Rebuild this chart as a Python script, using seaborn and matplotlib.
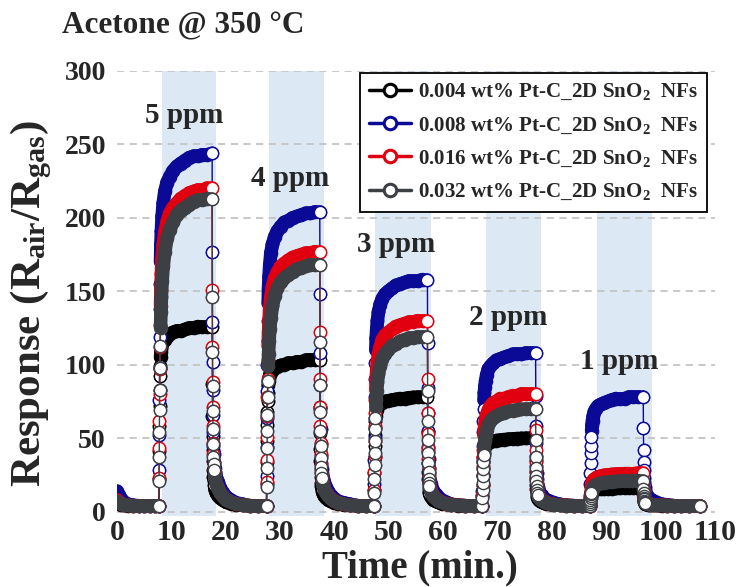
import numpy as np
import pandas as pd
import matplotlib
matplotlib.use("Agg")
import matplotlib.pyplot as plt
import seaborn as sns
from matplotlib.collections import LineCollection
from matplotlib.lines import Line2D

# ---------------- timing of the gas pulses (min) ----------------
gas_on = [7.7, 27.5, 47.3, 67.2, 87.0]
rise_t = [0, 0.03, 0.06, 0.09, 0.12, 0.16, 0.2, 0.25, 0.31, 0.38, 0.47, 0.6, 0.8,
          1.1, 1.5, 2.0, 2.6, 3.3, 4.0, 4.8, 5.6, 6.4, 7.2, 8.0, 8.9, 9.8]
fall_t = [0.03, 0.06, 0.09, 0.12, 0.16, 0.2, 0.25, 0.31, 0.38, 0.47, 0.6, 0.8,
          1.1, 1.5, 2.0, 2.6, 3.4, 4.4, 5.6, 7.0, 8.5]
start_t = [0, 0.4, 0.8, 1.3, 2.0, 3.0, 4.0, 5.0, 6.0, 7.0]
end_t = 107.2
end_v = 4
exposure_windows = [(8.2, 18.3), (28.0, 38.1), (47.4, 57.7), (67.9, 78.0), (88.3, 98.5)]
ppm_labels = ["5 ppm", "4 ppm", "3 ppm", "2 ppm", "1 ppm"]
ppm_label_x = [12.3, 31.9, 51.4, 71.9, 92.4]
ppm_label_y = [270, 227, 182, 132, 102]
x_ticks = [0, 10, 20, 30, 40, 50, 60, 70, 80, 90, 100, 110]
y_ticks = [0, 50, 100, 150, 200, 250, 300]

# ---------------- 0.004 wt% ----------------
s004_start = [6, 5.2, 4.7, 4.3, 4.1, 4, 4, 4, 4, 4]
s004_rise = [
    [4, 22, 41, 58, 72, 83, 92, 99, 105, 109, 111, 114, 116, 117, 119, 121, 122, 123, 123, 124, 125, 125, 126, 126, 126, 126],
    [4, 19, 34, 48, 59, 68, 75, 81, 86, 89, 91, 93, 95, 96, 98, 98.5, 99.5, 100, 101, 101, 102, 102, 103, 103, 103, 103],
    [4, 15, 26, 37, 45, 52, 57, 62, 65, 68, 69, 71, 72, 73, 74, 75, 75.4, 76, 76.4, 77, 77, 77.5, 77.7, 77.9, 78, 78],
    [4, 10.9, 17.8, 24.2, 29.8, 33.9, 37.1, 39.9, 42.2, 43.6, 44.5, 45.4, 46.1, 46.8, 47.5, 47.9, 48.4, 48.7, 49, 49.3, 49.5, 49.7, 49.8, 49.9, 50, 50],
    [4, 5.8, 7.6, 9.3, 10.7, 11.8, 12.6, 13.4, 14, 14.3, 14.6, 14.8, 15, 15.2, 15.3, 15.5, 15.6, 15.7, 15.7, 15.8, 15.9, 15.9, 16, 16, 16, 16],
]
s004_fall = [
    [87, 65, 51.6, 41.8, 34.5, 28.4, 23.5, 20.5, 18, 16.2, 14.4, 12.5, 10.7, 9.1, 7.7, 6.4, 5.5, 4.7, 4.2, 4, 4],
    [71.3, 53.5, 42.6, 34.7, 28.8, 23.8, 19.8, 17.4, 15.4, 13.9, 12.4, 10.9, 9.4, 8.2, 7, 6, 5.2, 4.6, 4.2, 4, 4],
    [54.3, 41, 32.9, 26.9, 22.5, 18.8, 15.8, 14, 12.5, 11.4, 10.3, 9.2, 8.1, 7.1, 6.2, 5.5, 4.9, 4.4, 4.1, 4, 4],
    [35.3, 27, 21.9, 18.3, 15.5, 13.2, 11.4, 10.2, 9.3, 8.6, 7.9, 7.2, 6.5, 5.9, 5.4, 4.9, 4.6, 4.3, 4.1, 4, 4],
    [12.2, 10, 8.7, 7.7, 7, 6.4, 5.9, 5.6, 5.4, 5.2, 5, 4.8, 4.7, 4.5, 4.4, 4.2, 4.1, 4.1, 4, 4, 4],
]

# ---------------- 0.008 wt% ----------------
s008_start = [14, 11, 8.5, 6.5, 5, 4.3, 4, 4, 4, 4]
s008_rise = [
    [4, 28, 52, 76, 98, 119, 138, 155, 170, 182, 191, 201, 210, 218, 224, 228, 232, 235, 237, 239, 241, 242, 242, 243, 243, 244],
    [4, 24, 44, 64, 82, 100, 116, 130, 142, 152, 160, 168, 176, 182, 187, 191, 194, 197, 198, 200, 201, 202, 203, 203, 204, 204],
    [4, 19, 35, 50, 64, 78, 90, 101, 110, 118, 124, 130, 136, 141, 145, 148, 150, 152, 154, 155, 156, 157, 157, 157, 158, 158],
    [4, 14, 25, 35, 45, 54, 62, 70, 76, 81, 85, 89, 93, 97, 99, 101, 103, 104, 105, 106, 107, 107, 107, 108, 108, 108],
    [4, 11, 19, 26, 33, 40, 45, 51, 55, 59, 62, 65, 68, 70, 72, 73, 74, 75, 76, 77, 77, 77, 78, 78, 78, 78],
]
s008_fall = [
    [177, 129, 102, 83, 66, 54, 45, 39, 34, 30, 27, 23, 20, 16, 13, 10, 8, 6, 5, 4, 4],
    [148, 108, 86, 70, 56, 46, 38, 33, 29, 26, 23, 20, 17, 14, 11, 9, 7, 6, 5, 4, 4],
    [115, 84, 67, 55, 44, 36, 30, 26, 23, 21, 19, 16, 14, 12, 10, 8, 6.5, 5, 4.5, 4, 4],
    [79, 58, 47, 38, 31, 26, 22, 19, 17, 15, 14, 12, 11, 9, 8, 7, 6, 5, 4.3, 4, 4],
    [57, 42, 34, 28, 23, 20, 17, 15, 13, 12, 11, 10, 9, 8, 7, 6, 5, 4.6, 4, 4, 4],
]

# ---------------- 0.016 wt% ----------------
s016_start = [8, 6.5, 5.5, 4.8, 4.3, 4, 4, 4, 4, 4]
s016_rise = [
    [4, 23, 43, 62, 80, 97, 112, 127, 140, 151, 162, 172, 181, 190, 197, 203, 207, 210, 213, 215, 217, 218, 219, 219, 220, 220],
    [4, 20, 35, 51, 65, 78, 90, 103, 113, 122, 130, 139, 146, 153, 159, 163, 167, 169, 171, 173, 174, 175, 176, 176, 177, 177],
    [4, 15, 27, 38, 48, 58, 67, 76, 83, 90, 96, 102, 107, 112, 117, 120, 122, 124, 126, 127, 128, 129, 129, 130, 130, 130],
    [4, 11, 18, 25, 31, 37, 42, 47, 52, 56, 59, 63, 66, 69, 72, 74, 75, 77, 77, 78, 79, 79, 80, 80, 80, 80],
    [4, 6, 8, 10, 11.7, 13.5, 15, 16.5, 17.9, 19, 20.1, 21.2, 22, 22.9, 23.7, 24.2, 24.7, 25, 25.3, 25.5, 25.7, 25.8, 25.9, 25.9, 26, 26],
]
s016_fall = [
    [151, 112, 88, 71, 58, 47, 39, 33, 29, 26, 22, 19, 16, 13, 10.5, 8.3, 6.6, 5.3, 4.4, 4, 4],
    [122, 90, 71.5, 58, 47, 39, 32, 27, 24, 21, 19, 16, 13.5, 11.3, 9.2, 7.5, 6.1, 5, 4.3, 4, 4],
    [90, 67, 53, 43, 35.5, 29, 24, 21, 18.5, 16.6, 14.7, 12.8, 10.9, 9.3, 7.8, 6.5, 5.5, 4.8, 4.3, 4, 4],
    [55.7, 42, 33.6, 27.6, 23, 19.2, 16.2, 14.3, 12.7, 11.6, 10.5, 9.3, 8.2, 7.2, 6.3, 5.5, 4.9, 4.5, 4.2, 4, 4],
    [19, 15, 12.6, 10.8, 9.5, 8.4, 7.5, 7, 6.5, 6.2, 5.9, 5.5, 5.2, 4.9, 4.7, 4.4, 4.3, 4.1, 4, 4, 4],
]

# ---------------- 0.032 wt% ----------------
s032_start = [7, 6, 5.2, 4.6, 4.2, 4, 4, 4, 4, 4]
s032_rise = [
    [4, 21, 37, 54, 69, 83, 98, 113, 125, 136, 146, 157, 167, 177, 186, 192, 197, 202, 205, 207, 209, 211, 212, 212, 213, 213],
    [4, 17, 30, 43, 55, 66, 78, 89, 99, 107, 116, 124, 132, 140, 147, 152, 156, 159, 161, 163, 165, 166, 167, 168, 168, 168],
    [4, 13, 22, 32, 40, 48, 56, 64, 71, 76, 82, 88, 94, 99, 104, 107.5, 110, 113, 114, 116, 117, 118, 118, 119, 119, 119],
    [4, 9.3, 14.6, 19.8, 24.5, 29.1, 33.7, 38.3, 42.3, 45.6, 48.9, 52.2, 55.5, 58.8, 61.4, 63.4, 65.1, 66.4, 67.4, 68.2, 68.8, 69.3, 69.6, 69.8, 69.9, 70],
    [4, 5.4, 6.7, 8.1, 9.3, 10.5, 11.7, 12.8, 13.9, 14.7, 15.6, 16.4, 17.3, 18.1, 18.8, 19.3, 19.7, 20.1, 20.3, 20.5, 20.7, 20.8, 20.9, 20.9, 21, 21],
]
s032_fall = [
    [146, 108.5, 85.5, 68.8, 56.3, 45.8, 37.4, 32.2, 28, 24.9, 21.8, 18.6, 15.5, 12.8, 10.3, 8.2, 6.5, 5.3, 4.4, 4, 4],
    [115.5, 86, 68, 54.8, 45, 36.8, 30.2, 26.1, 22.9, 20.4, 17.9, 15.5, 13, 10.9, 8.9, 7.3, 6, 5, 4.3, 4, 4],
    [82.2, 61.5, 48.9, 39.7, 32.8, 27, 22.4, 19.5, 17.2, 15.5, 13.8, 12.1, 10.3, 8.8, 7.5, 6.3, 5.4, 4.7, 4.2, 4, 4],
    [48.9, 37, 29.7, 24.5, 20.5, 17.2, 14.6, 12.9, 11.6, 10.6, 9.6, 8.6, 7.6, 6.8, 6, 5.3, 4.8, 4.4, 4.1, 4, 4],
    [15.6, 12.5, 10.6, 9.3, 8.3, 7.4, 6.7, 6.3, 6, 5.7, 5.4, 5.2, 4.9, 4.7, 4.5, 4.3, 4.2, 4.1, 4, 4, 4],
]

series_names = ["0.004 wt% Pt-C_2D SnO$_2$  NFs", "0.008 wt% Pt-C_2D SnO$_2$  NFs",
                "0.016 wt% Pt-C_2D SnO$_2$  NFs", "0.032 wt% Pt-C_2D SnO$_2$  NFs"]
series_colors = ["#000000", "#0a0a96", "#e0000f", "#3c4044"]
series_start = [s004_start, s008_start, s016_start, s032_start]
series_rise = [s004_rise, s008_rise, s016_rise, s032_rise]
series_fall = [s004_fall, s008_fall, s016_fall, s032_fall]

# samples after which the response changes slowly enough for the markers to merge
RISE_SOLID_FROM = 0.31
FALL_SOLID_FROM = 0.47


def build_frame(start, rise, fall):
    t, v, slow = [], [], []
    t += start_t; v += start; slow += [True] * len(start_t)
    for k, on in enumerate(gas_on):
        t += [on + dt for dt in rise_t]
        v += rise[k]
        slow += [dt == 0 or dt >= RISE_SOLID_FROM for dt in rise_t]
        off = on + rise_t[-1]
        t += [off + dt for dt in fall_t]
        v += fall[k]
        slow += [dt >= FALL_SOLID_FROM for dt in fall_t]
    t.append(end_t); v.append(end_v); slow.append(True)
    return pd.DataFrame({"time": t, "response": v, "slow": slow})


# ---------------- style ----------------
sns.set_theme(style="white")
plt.rcParams["font.family"] = ["Liberation Serif", "DejaVu Serif"]
plt.rcParams["font.weight"] = "bold"
plt.rcParams["mathtext.fontset"] = "custom"
plt.rcParams["mathtext.rm"] = "Liberation Serif:bold"
plt.rcParams["mathtext.it"] = "Liberation Serif:bold"
plt.rcParams["mathtext.bf"] = "Liberation Serif:bold"

W, H = 739, 587
fig = plt.figure(figsize=(W / 100, H / 100), dpi=100)
ax = fig.add_axes([117 / W, 1 - 516 / H, 598 / W, (516 - 71) / H])
ax.set_xlim(0, 110)
ax.set_ylim(-3, 300)

for a, b in exposure_windows:
    ax.axvspan(a, b, color="#dde8f5", lw=0, zorder=0)
for yv in y_ticks:
    ax.axhline(yv, color="#c4c4c4", lw=1.3, ls=(0, (4, 3)), zorder=0.5)

MS = 8.8
for i, (name, col) in enumerate(zip(series_names, series_colors)):
    df = build_frame(series_start[i], series_rise[i], series_fall[i])
    z = 2 + i
    sns.lineplot(data=df, x="time", y="response", ax=ax, color=col, lw=1.0,
                 marker="o", markersize=MS, markerfacecolor="white",
                 markeredgecolor=col, markeredgewidth=1.0,
                 estimator=None, sort=False, legend=False, zorder=z)
    tt = df["time"].to_numpy()
    vv = df["response"].to_numpy()
    sl = df["slow"].to_numpy()
    # solid band where consecutive samples overlap, open circles elsewhere
    thick = sl[:-1] & sl[1:]
    segs = [[(tt[j], vv[j]), (tt[j + 1], vv[j + 1])] for j in np.where(thick)[0]]
    ax.add_collection(LineCollection(segs, colors=col, linewidths=MS + 1.0,
                                     capstyle="round", zorder=z + 0.3))
    top = np.append(~thick, True)
    ax.plot(tt[top], vv[top], ls="none", marker="o", ms=MS, mfc="white",
            mec=col, mew=1.0, zorder=z + 0.6)

for lab, lx, ly in zip(ppm_labels, ppm_label_x, ppm_label_y):
    ax.text(lx, ly, lab, ha="center", va="center", fontsize=21, fontweight="bold", zorder=8)

for s in ax.spines.values():
    s.set_visible(False)
ax.set_xticks(x_ticks)
ax.set_yticks(y_ticks)
ax.tick_params(axis="x", length=0, pad=2, labelsize=21.5)
ax.tick_params(axis="y", length=0, pad=8, labelsize=20)
ax.set_xlabel("")
ax.set_ylabel("")

handles = [Line2D([0], [0], color=c, lw=2.5, marker="o", ms=9, mfc="white",
                  mec=c, mew=2.2) for c in series_colors]
leg = ax.legend(handles, series_names, loc="upper right", bbox_to_anchor=(0.987, 0.996),
                borderaxespad=0, frameon=True, fancybox=False, framealpha=1,
                edgecolor="black", fontsize=15.1, handlelength=2.0, handletextpad=0.3,
                labelspacing=0.62, borderpad=0.45)
leg.get_frame().set_linewidth(1.3)
leg.set_zorder(10)

fig.text(62 / W, 1 - 26 / H, "Acetone @ 350 °C", fontsize=22.5, fontweight="bold",
         ha="left", va="center")
fig.text(420 / W, 1 - 568 / H, "Time (min.)", fontsize=28, fontweight="bold",
         ha="center", va="center")
fig.text(31 / W, 1 - 304 / H, "Response (R$_{\\mathrm{air}}$/R$_{\\mathrm{gas}}$)",
         fontsize=31, fontweight="bold", rotation=90, ha="center", va="center")

fig.savefig("out.png", dpi=100, facecolor="white")
